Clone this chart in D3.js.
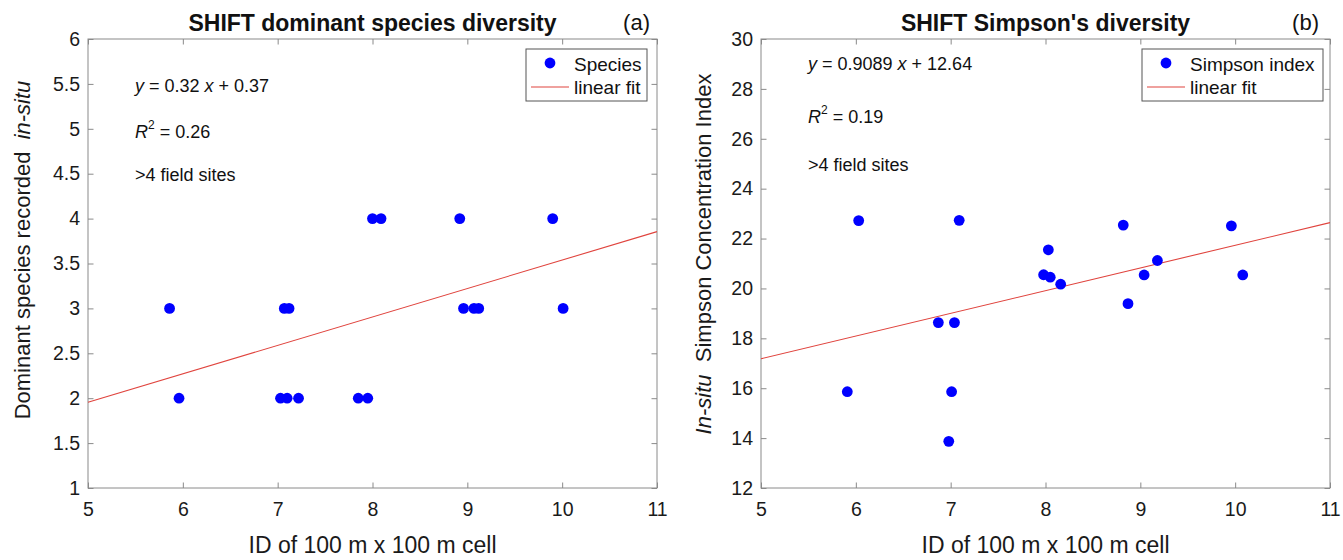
<!DOCTYPE html>
<html>
<head>
<meta charset="utf-8">
<script src="https://cdn.jsdelivr.net/npm/d3@7"></script>
<style>
  body { margin: 0; background: #fff; }
  svg { display: block; font-family: "Liberation Sans", Arial, sans-serif; }
</style>
</head>
<body>
<svg id="chart" width="1343" height="560"></svg>
<script>
// panel (a) - dominant species counts per cell
let cellIdA = [8.0, 8.09, 8.92, 9.9, 5.86, 7.07, 7.12, 8.96, 9.07, 9.12, 10.01, 5.96, 7.03, 7.1, 7.22, 7.85, 7.95];
let speciesA = [4, 4, 4, 4, 3, 3, 3, 3, 3, 3, 3, 2, 2, 2, 2, 2, 2];
let fitXA = [5, 11];
let fitYA = [1.955, 3.855];

// panel (b) - simpson concentration index per cell
let cellIdB = [6.03, 7.09, 8.82, 9.96, 8.03, 9.18, 7.98, 8.05, 9.04, 10.08, 8.16, 8.87, 6.87, 7.04, 5.91, 7.01, 6.98];
let simpsonB = [22.72, 22.73, 22.54, 22.51, 21.55, 21.12, 20.55, 20.45, 20.54, 20.54, 20.17, 19.39, 18.63, 18.63, 15.86, 15.86, 13.87];
let fitXB = [5, 11];
let fitYB = [17.18, 22.64];

let xTicks = [5, 6, 7, 8, 9, 10, 11];
let yTicksA = [1, 1.5, 2, 2.5, 3, 3.5, 4, 4.5, 5, 5.5, 6];
let yTicksB = [12, 14, 16, 18, 20, 22, 24, 26, 28, 30];

let svg = d3.select("#chart");
let frameColor = "#8a8a8a";
let dotColor = "#0000ff";
let fitColor = "#e0443e";
let tickFmt = d3.format("~g");

let drawPanel = (p) => {
  let x = d3.scaleLinear().domain([5, 11]).range([p.left, p.right]);
  let y = d3.scaleLinear().domain(p.yDomain).range([p.bottom, p.top]);
  let g = svg.append("g");

  // box with inward ticks on all four sides
  g.append("rect")
    .attr("x", p.left)
    .attr("y", p.top)
    .attr("width", p.right - p.left)
    .attr("height", p.bottom - p.top)
    .attr("fill", "none")
    .attr("stroke", frameColor)
    .attr("stroke-width", 1);

  let axes = [
    d3.axisBottom(x).tickValues(xTicks).tickSizeInner(-5.5).tickSizeOuter(0).tickPadding(14).tickFormat(tickFmt),
    d3.axisTop(x).tickValues(xTicks).tickSizeInner(-5.5).tickSizeOuter(0).tickFormat(""),
    d3.axisLeft(y).tickValues(p.yTicks).tickSizeInner(-5.5).tickSizeOuter(0).tickPadding(8).tickFormat(tickFmt),
    d3.axisRight(y).tickValues(p.yTicks).tickSizeInner(-5.5).tickSizeOuter(0).tickFormat("")
  ];
  let shifts = [`translate(0,${p.bottom})`, `translate(0,${p.top})`, `translate(${p.left},0)`, `translate(${p.right},0)`];
  axes.forEach((ax, i) => {
    let a = g.append("g").attr("transform", shifts[i]).call(ax);
    a.select(".domain").remove();
    a.selectAll("line").attr("stroke", frameColor);
    a.selectAll("text")
      .attr("font-size", 19.5)
      .attr("fill", "#1a1a1a")
      .attr("font-family", "Liberation Sans, Arial, sans-serif");
  });

  // fit line
  g.append("line")
    .attr("x1", x(p.fitX[0]))
    .attr("y1", y(p.fitY[0]))
    .attr("x2", x(p.fitX[1]))
    .attr("y2", y(p.fitY[1]))
    .attr("stroke", fitColor)
    .attr("stroke-width", 1.1);

  // points
  g.selectAll("circle.pt")
    .data(d3.zip(p.xs, p.ys))
    .enter()
    .append("circle")
    .attr("class", "pt")
    .attr("cx", (d) => x(d[0]))
    .attr("cy", (d) => y(d[1]))
    .attr("r", 5.4)
    .attr("fill", dotColor);

  // title and panel letter
  g.append("text")
    .text(p.title)
    .attr("x", (p.left + p.right) / 2)
    .attr("y", 31)
    .attr("text-anchor", "middle")
    .attr("font-size", 23)
    .attr("font-weight", "bold")
    .attr("fill", "#111");

  g.append("text")
    .text(p.letter)
    .attr("x", p.letterX)
    .attr("y", 30)
    .attr("text-anchor", "end")
    .attr("font-size", 22)
    .attr("fill", "#111");

  // x label
  g.append("text")
    .text("ID of 100 m x 100 m cell")
    .attr("x", (p.left + p.right) / 2)
    .attr("y", 553)
    .attr("text-anchor", "middle")
    .attr("font-size", 23)
    .attr("fill", "#1a1a1a");

  // y label with an italic part
  let yl = g.append("text")
    .attr("transform", `translate(${p.yLabelX}, ${p.yLabelY}) rotate(-90)`)
    .attr("text-anchor", "middle")
    .attr("font-size", 22)
    .attr("fill", "#1a1a1a");
  p.yLabel.forEach((part) => {
    yl.append("tspan")
      .text(part.t)
      .attr("font-style", part.italic ? "italic" : "normal")
      .attr("xml:space", "preserve");
  });

  // regression annotations
  let eq = g.append("text")
    .attr("x", p.noteX)
    .attr("y", p.noteY[0])
    .attr("font-size", 18)
    .attr("fill", "#111");
  eq.append("tspan").text("y").attr("font-style", "italic");
  eq.append("tspan").text(` = ${p.slope} `);
  eq.append("tspan").text("x").attr("font-style", "italic");
  eq.append("tspan").text(` + ${p.intercept}`);

  let r2 = g.append("text")
    .attr("x", p.noteX)
    .attr("y", p.noteY[1])
    .attr("font-size", 18)
    .attr("fill", "#111");
  r2.append("tspan").text("R").attr("font-style", "italic");
  r2.append("tspan").text("2").attr("font-size", 12).attr("dy", -9);
  r2.append("tspan").text(` = ${p.r2}`).attr("dy", 9);

  g.append("text")
    .text(">4 field sites")
    .attr("x", p.noteX)
    .attr("y", p.noteY[2])
    .attr("font-size", 18)
    .attr("fill", "#111");

  // legend
  let lg = g.append("g");
  lg.append("rect")
    .attr("x", p.legend.x)
    .attr("y", 49)
    .attr("width", p.legend.w)
    .attr("height", 52)
    .attr("fill", "#fff")
    .attr("stroke", "#555")
    .attr("stroke-width", 1);
  lg.append("circle")
    .attr("cx", p.legend.x + 24)
    .attr("cy", 63)
    .attr("r", 5.4)
    .attr("fill", dotColor);
  lg.append("line")
    .attr("x1", p.legend.x + 5)
    .attr("x2", p.legend.x + 43)
    .attr("y1", 87)
    .attr("y2", 87)
    .attr("stroke", fitColor)
    .attr("stroke-width", 1.1);
  lg.selectAll("text.lbl")
    .data([p.legend.label, "linear fit"])
    .enter()
    .append("text")
    .attr("class", "lbl")
    .text((d) => d)
    .attr("x", p.legend.x + 48)
    .attr("y", (d, i) => 70.5 + i * 23.5)
    .attr("font-size", 19)
    .attr("fill", "#111");
};

drawPanel({
  left: 88, right: 657, top: 39, bottom: 488,
  yDomain: [1, 6], yTicks: yTicksA,
  xs: cellIdA, ys: speciesA, fitX: fitXA, fitY: fitYA,
  title: "SHIFT dominant species diversity", letter: "(a)", letterX: 650,
  yLabel: [{ t: "Dominant species recorded  " }, { t: "in-situ", italic: true }],
  yLabelX: 30, yLabelY: 250,
  noteX: 135, noteY: [91.5, 138, 181],
  slope: "0.32", intercept: "0.37", r2: "0.26",
  legend: { x: 526, w: 121, label: "Species" }
});

drawPanel({
  left: 761, right: 1330, top: 39, bottom: 488,
  yDomain: [12, 30], yTicks: yTicksB,
  xs: cellIdB, ys: simpsonB, fitX: fitXB, fitY: fitYB,
  title: "SHIFT Simpson's diversity", letter: "(b)", letterX: 1319,
  yLabel: [{ t: "In-situ", italic: true }, { t: "  Simpson Concentration Index" }],
  yLabelX: 711, yLabelY: 254,
  noteX: 808, noteY: [70, 123, 170.5],
  slope: "0.9089", intercept: "12.64", r2: "0.19",
  legend: { x: 1142, w: 181, label: "Simpson index" }
});
</script>
</body>
</html>
